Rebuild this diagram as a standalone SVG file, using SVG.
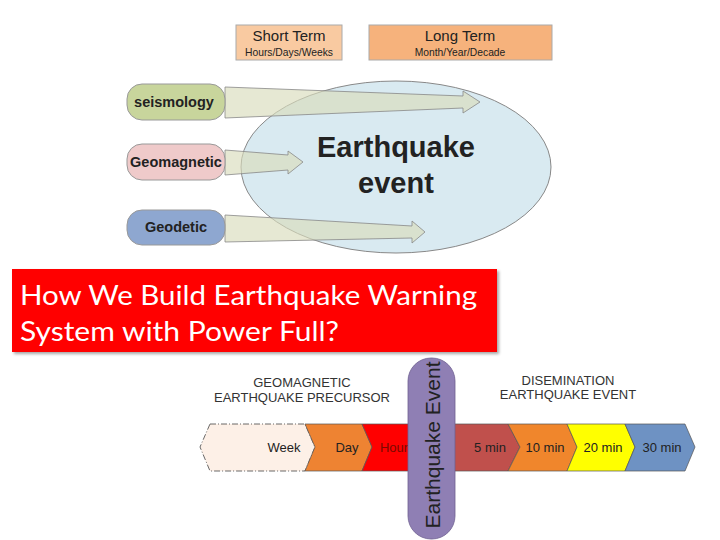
<svg xmlns="http://www.w3.org/2000/svg" width="720" height="540" viewBox="0 0 720 540">
<defs>
<filter id="sh" x="-5%" y="-10%" width="115%" height="130%">
<feDropShadow dx="2" dy="2" stdDeviation="1.5" flood-color="#000" flood-opacity="0.35"/>
</filter>
</defs>
<style>
.a{font-family:"Liberation Sans",Arial,sans-serif;fill:#222}
.b{font-weight:bold;font-size:14.5px;text-anchor:middle}
.pill{stroke:#999;stroke-width:1}
.arr{fill:#d8dcbc;fill-opacity:0.65;stroke:#888;stroke-width:0.8}
.chev{stroke:#555;stroke-width:0.7}
.cl{font-size:13px;text-anchor:middle}
.hd{font-size:13px;text-anchor:middle;fill:#333}
</style>
<rect width="720" height="540" fill="#fff"/>

<g id="short-term">
<rect x="236" y="25" width="106" height="35" fill="#f9caa1" stroke="#aaa" stroke-width="1"/>
<text class="a" x="289" y="41" font-size="15" text-anchor="middle">Short Term</text>
<text class="a" x="289" y="56" font-size="10.3" text-anchor="middle">Hours/Days/Weeks</text>
</g>
<g id="long-term">
<rect x="369" y="25" width="183" height="35" fill="#f6b27c" stroke="#aaa" stroke-width="1"/>
<text class="a" x="460" y="41" font-size="15" text-anchor="middle">Long Term</text>
<text class="a" x="460" y="56" font-size="10.3" text-anchor="middle">Month/Year/Decade</text>
</g>

<g id="earthquake-event-ellipse">
<ellipse cx="396" cy="167" rx="155" ry="86" fill="#d9eaf1" stroke="#888" stroke-width="1"/>
<text class="a" x="396" y="157" font-size="29" font-weight="bold" text-anchor="middle" fill="#111">Earthquake</text>
<text class="a" x="396" y="193" font-size="29" font-weight="bold" text-anchor="middle" fill="#111">event</text>
</g>

<g id="connectors">
<polygon class="arr" points="225,87 463,96 463,91 480,102 463,113 463,108 225,118"/>
<polygon class="arr" points="225,150 288,155 288,151 303,162 288,174 288,170 225,175"/>
<polygon class="arr" points="225,215 412,226 412,221 425,232 412,243 412,238 225,242"/>
</g>

<g id="seismology">
<rect class="pill" x="127" y="84" width="98" height="36" rx="15" fill="#c8d59c"/>
<text class="a b" x="174" y="107">seismology</text>
</g>
<g id="geomagnetic">
<rect class="pill" x="127" y="144" width="98" height="36" rx="15" fill="#efcaca"/>
<text class="a b" x="176" y="167">Geomagnetic</text>
</g>
<g id="geodetic">
<rect class="pill" x="127" y="210" width="98" height="35" rx="15" fill="#8ea7d0"/>
<text class="a b" x="176" y="232">Geodetic</text>
</g>

<g id="title-box">
<rect x="12" y="269" width="485" height="83" fill="#ff0000" filter="url(#sh)"/>
<text x="20" y="305" font-family="Lato,'Open Sans',sans-serif" font-size="26" fill="#fff" textLength="457" lengthAdjust="spacingAndGlyphs">How We Build Earthquake Warning</text>
<text x="20" y="341" font-family="Lato,'Open Sans',sans-serif" font-size="26" fill="#fff" textLength="319" lengthAdjust="spacingAndGlyphs">System with Power Full?</text>
</g>

<g id="precursor-label">
<text class="a hd" x="302" y="387">GEOMAGNETIC</text>
<text class="a hd" x="302" y="402">EARTHQUAKE PRECURSOR</text>
</g>
<g id="dissemination-label">
<text class="a hd" x="568" y="385">DISEMINATION</text>
<text class="a hd" x="568" y="399">EARTHQUAKE EVENT</text>
</g>

<g id="timeline">
<g id="week">
<polygon points="210,424 305,424 315,447 305,471 210,471 200,447" fill="#fdf0e7" stroke="#444" stroke-width="0.8" stroke-dasharray="6,2,1,2"/>
<text class="a cl" x="284" y="452">Week</text>
</g>
<g id="day">
<polygon class="chev" points="305,424 362,424 372,447 362,471 305,471 315,447" fill="#ee8332"/>
<text class="a cl" x="347" y="452">Day</text>
</g>
<g id="hour">
<polygon class="chev" points="362,424 420,424 420,471 362,471 372,447" fill="#ff0000"/>
<text class="a cl" x="394" y="452" style="fill:#7a0a00">Hour</text>
</g>
<g id="min5">
<polygon class="chev" points="445,424 508,424 520,447 508,471 445,471" fill="#c0504c"/>
<text class="a cl" x="490" y="452">5 min</text>
</g>
<g id="min10">
<polygon class="chev" points="508,424 567,424 577,447 567,471 508,471 520,447" fill="#f0862c"/>
<text class="a cl" x="545" y="452">10 min</text>
</g>
<g id="min20">
<polygon class="chev" points="567,424 625,424 635,447 625,471 567,471 577,447" fill="#ffff00"/>
<text class="a cl" x="603" y="452">20 min</text>
</g>
<g id="min30">
<polygon class="chev" points="625,424 685,424 695,447 685,471 625,471 635,447" fill="#6e92c3"/>
<text class="a cl" x="662" y="452">30 min</text>
</g>
</g>

<g id="earthquake-event-bar">
<rect x="408" y="358" width="47" height="181" rx="23" fill="#8f7fb4" stroke="#6e6090" stroke-width="0.8"/>
<text class="a" transform="translate(440,445) rotate(-90)" font-size="21" text-anchor="middle" fill="#111">Earthquake Event</text>
</g>
</svg>
